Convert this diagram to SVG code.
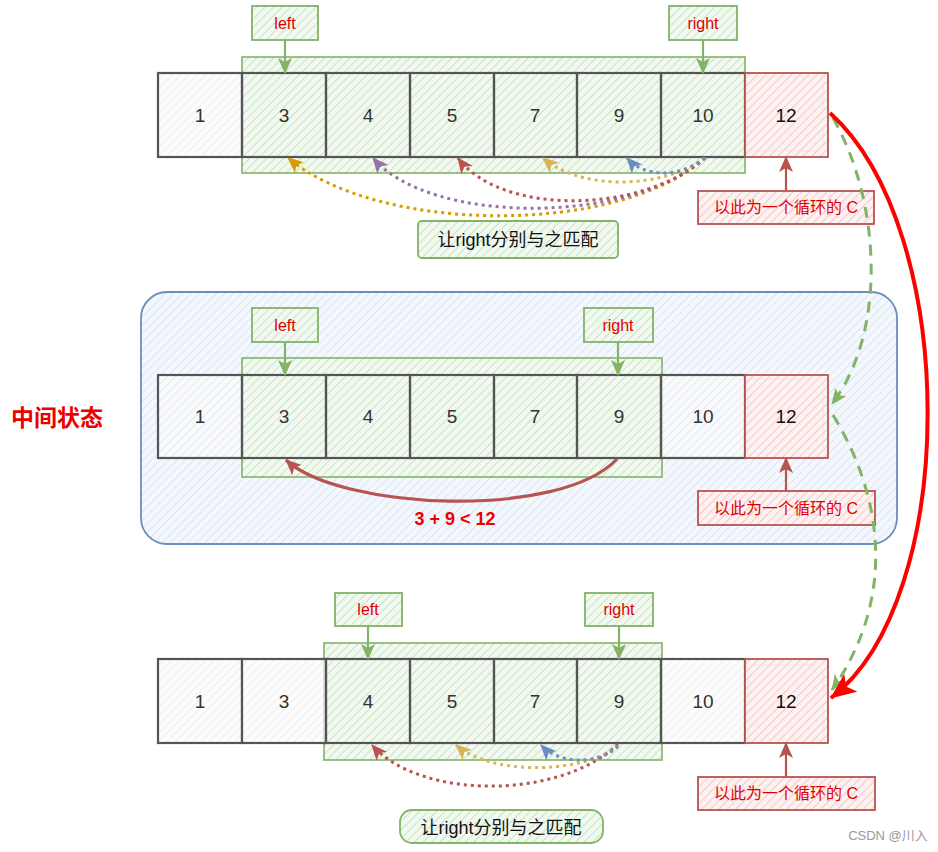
<svg xmlns="http://www.w3.org/2000/svg" width="938" height="852" viewBox="0 0 938 852">
<defs>
<pattern id="hG" width="6" height="6" patternUnits="userSpaceOnUse" patternTransform="rotate(45)"><rect width="6" height="6" fill="#f2f9f1"/><line x1="0" y1="0" x2="0" y2="6" stroke="#b3d7ac" stroke-width="1.3"/></pattern>
<pattern id="hGr" width="6" height="6" patternUnits="userSpaceOnUse" patternTransform="rotate(45)"><rect width="6" height="6" fill="#fbfbfb"/><line x1="0" y1="0" x2="0" y2="6" stroke="#dcdcdc" stroke-width="1.2"/></pattern>
<pattern id="hR" width="6" height="6" patternUnits="userSpaceOnUse" patternTransform="rotate(45)"><rect width="6" height="6" fill="#fdf2f1"/><line x1="0" y1="0" x2="0" y2="6" stroke="#f0b2ae" stroke-width="1.3"/></pattern>
<pattern id="hB" width="6" height="6" patternUnits="userSpaceOnUse" patternTransform="rotate(45)"><rect width="6" height="6" fill="#f4f8fd"/><line x1="0" y1="0" x2="0" y2="6" stroke="#c8dcf3" stroke-width="1.3"/></pattern>
<marker id="aG" viewBox="0 0 16 14" refX="15" refY="7" markerWidth="16" markerHeight="14" markerUnits="userSpaceOnUse" orient="auto"><path d="M0,0 L16,7 L0,14 L4,7 z" fill="#82b366"/></marker>
<marker id="aR" viewBox="0 0 16 14" refX="15" refY="7" markerWidth="16" markerHeight="14" markerUnits="userSpaceOnUse" orient="auto"><path d="M0,0 L16,7 L0,14 L4,7 z" fill="#b85450"/></marker>
<marker id="aBig" viewBox="0 0 26 22" refX="25" refY="11" markerWidth="26" markerHeight="22" markerUnits="userSpaceOnUse" orient="auto"><path d="M0,0 L26,11 L0,22 L6,11 z" fill="#ff0000"/></marker>
<marker id="dGold" viewBox="0 0 16 14" refX="15" refY="7" markerWidth="16" markerHeight="14" markerUnits="userSpaceOnUse" orient="auto"><path d="M0,0 L16,7 L0,14 L4,7 z" fill="#d79b00"/></marker>
<marker id="dPur" viewBox="0 0 16 14" refX="15" refY="7" markerWidth="16" markerHeight="14" markerUnits="userSpaceOnUse" orient="auto"><path d="M0,0 L16,7 L0,14 L4,7 z" fill="#9673a6"/></marker>
<marker id="dRed" viewBox="0 0 16 14" refX="15" refY="7" markerWidth="16" markerHeight="14" markerUnits="userSpaceOnUse" orient="auto"><path d="M0,0 L16,7 L0,14 L4,7 z" fill="#b85450"/></marker>
<marker id="dYel" viewBox="0 0 16 14" refX="15" refY="7" markerWidth="16" markerHeight="14" markerUnits="userSpaceOnUse" orient="auto"><path d="M0,0 L16,7 L0,14 L4,7 z" fill="#d6b656"/></marker>
<marker id="dBlu" viewBox="0 0 16 14" refX="15" refY="7" markerWidth="16" markerHeight="14" markerUnits="userSpaceOnUse" orient="auto"><path d="M0,0 L16,7 L0,14 L4,7 z" fill="#6c8ebf"/></marker>
</defs>
<style>
text{font-family:"Liberation Sans","Noto Sans CJK SC",sans-serif;text-anchor:middle}
.cell{fill:url(#hGr);fill-opacity:0.7;stroke:#555;stroke-width:2.2}
.cellg{fill:none;stroke:#555;stroke-width:2.2}
.num{font-size:19px;fill:#333}
.rng{fill:url(#hG);stroke:#82b366;stroke-width:1.6}
.lbl{fill:url(#hG);stroke:#82b366;stroke-width:1.8}
.lt{font-size:16px;fill:#e00000}
.red{fill:url(#hR);stroke:#b85450;stroke-width:1.8}
.ct{font-size:16px;fill:#e00000}
.pt{fill:none;stroke-width:2.2;marker-end:url(#aG);stroke:#82b366}
.pr{fill:none;stroke-width:2.2;marker-end:url(#aR);stroke:#b85450}
.dot{fill:none;stroke-width:3;stroke-dasharray:3 4}
.big{font-size:18px;fill:#111}
</style>

<g id="mid-container">
<rect x="141" y="292" width="756" height="252" rx="26" fill="url(#hB)" stroke="#6c8ebf" stroke-width="1.8"/>
</g>
<g id="mid-title"><text x="57" y="426" style="font-size:23px;font-weight:bold;fill:#ee0000">中间状态</text></g>

<g id="top-range"><rect class="rng" x="242" y="57" width="503" height="116"/></g>
<g id="top-c1"><rect class="cell" x="158" y="73" width="84" height="84"/><text class="num" x="200" y="122">1</text></g>
<g id="top-c3"><rect class="cellg" x="242" y="73" width="84" height="84"/><text class="num" x="284" y="122">3</text></g>
<g id="top-c4"><rect class="cellg" x="326" y="73" width="84" height="84"/><text class="num" x="368" y="122">4</text></g>
<g id="top-c5"><rect class="cellg" x="410" y="73" width="84" height="84"/><text class="num" x="452" y="122">5</text></g>
<g id="top-c7"><rect class="cellg" x="494" y="73" width="83" height="84"/><text class="num" x="535" y="122">7</text></g>
<g id="top-c9"><rect class="cellg" x="577" y="73" width="84" height="84"/><text class="num" x="619" y="122">9</text></g>
<g id="top-c10"><rect class="cellg" x="661" y="73" width="84" height="84"/><text class="num" x="703" y="122">10</text></g>
<g id="top-c12"><rect class="red" x="745" y="73" width="83" height="84"/><text class="num" x="786" y="122" style="fill:#111">12</text></g>
<g id="top-left"><rect class="lbl" x="252" y="6" width="66" height="34"/><text class="lt" x="285" y="29">left</text></g>
<g id="top-right"><rect class="lbl" x="669" y="6" width="68" height="34"/><text class="lt" x="703" y="29">right</text></g>
<g id="top-c"><rect class="red" x="698" y="191" width="176" height="33"/><text class="ct" x="786" y="213">以此为一个循环的 C</text></g>
<g id="top-note"><rect class="lbl" x="418" y="221" width="200" height="37" rx="4"/><text class="big" x="518" y="246">让right分别与之匹配</text></g>

<g id="mid-range"><rect class="rng" x="242" y="358" width="420" height="119"/></g>
<g id="mid-c1"><rect class="cell" x="158" y="375" width="84" height="83"/><text class="num" x="200" y="423">1</text></g>
<g id="mid-c3"><rect class="cellg" x="242" y="375" width="84" height="83"/><text class="num" x="284" y="423">3</text></g>
<g id="mid-c4"><rect class="cellg" x="326" y="375" width="84" height="83"/><text class="num" x="368" y="423">4</text></g>
<g id="mid-c5"><rect class="cellg" x="410" y="375" width="84" height="83"/><text class="num" x="452" y="423">5</text></g>
<g id="mid-c7"><rect class="cellg" x="494" y="375" width="83" height="83"/><text class="num" x="535" y="423">7</text></g>
<g id="mid-c9"><rect class="cellg" x="577" y="375" width="84" height="83"/><text class="num" x="619" y="423">9</text></g>
<g id="mid-c10"><rect class="cell" x="661" y="375" width="84" height="83"/><text class="num" x="703" y="423">10</text></g>
<g id="mid-c12"><rect class="red" x="745" y="375" width="83" height="83"/><text class="num" x="786" y="423" style="fill:#111">12</text></g>
<g id="mid-left"><rect class="lbl" x="252" y="308" width="66" height="34"/><text class="lt" x="285" y="331">left</text></g>
<g id="mid-right"><rect class="lbl" x="584" y="308" width="69" height="34"/><text class="lt" x="618" y="331">right</text></g>
<g id="mid-c"><rect class="red" x="698" y="491" width="177" height="34"/><text class="ct" x="786" y="514">以此为一个循环的 C</text></g>
<g id="mid-cond"><text x="455" y="525" style="font-size:18px;font-weight:bold;fill:#ee0000">3 + 9 &lt; 12</text></g>

<g id="bot-range"><rect class="rng" x="324" y="643" width="338" height="117"/></g>
<g id="bot-c1"><rect class="cell" x="158" y="659" width="84" height="84"/><text class="num" x="200" y="708">1</text></g>
<g id="bot-c3"><rect class="cell" x="242" y="659" width="84" height="84"/><text class="num" x="284" y="708">3</text></g>
<g id="bot-c4"><rect class="cellg" x="326" y="659" width="84" height="84"/><text class="num" x="368" y="708">4</text></g>
<g id="bot-c5"><rect class="cellg" x="410" y="659" width="84" height="84"/><text class="num" x="452" y="708">5</text></g>
<g id="bot-c7"><rect class="cellg" x="494" y="659" width="83" height="84"/><text class="num" x="535" y="708">7</text></g>
<g id="bot-c9"><rect class="cellg" x="577" y="659" width="84" height="84"/><text class="num" x="619" y="708">9</text></g>
<g id="bot-c10"><rect class="cell" x="661" y="659" width="84" height="84"/><text class="num" x="703" y="708">10</text></g>
<g id="bot-c12"><rect class="red" x="745" y="659" width="83" height="84"/><text class="num" x="786" y="708" style="fill:#111">12</text></g>
<g id="bot-left"><rect class="lbl" x="335" y="593" width="67" height="33"/><text class="lt" x="368" y="615">left</text></g>
<g id="bot-right"><rect class="lbl" x="585" y="593" width="68" height="33"/><text class="lt" x="619" y="615">right</text></g>
<g id="bot-c"><rect class="red" x="698" y="777" width="177" height="33"/><text class="ct" x="786" y="799">以此为一个循环的 C</text></g>
<g id="bot-note"><rect class="lbl" x="400" y="810" width="203" height="33" rx="12"/><text class="big" x="501" y="834">让right分别与之匹配</text></g>

<g id="watermark"><text x="888" y="840" style="font-size:13px;fill:#999">CSDN @川入</text></g>

<g id="connectors">
<path class="pt" d="M285 40 V73"/>
<path class="pt" d="M703 40 V73"/>
<path class="pr" d="M786 191 V157"/>
<path class="pt" d="M285 342 V375"/>
<path class="pt" d="M618 342 V375"/>
<path class="pr" d="M786 491 V458"/>
<path class="pt" d="M368 626 V659"/>
<path class="pt" d="M619 626 V659"/>
<path class="pr" d="M786 777 V743"/>

<path class="dot" stroke="#d79b00" marker-end="url(#dGold)" d="M705 158 C620 235 380 235 288 158"/>
<path class="dot" stroke="#9673a6" marker-end="url(#dPur)" d="M705 158 C630 225 430 225 373 158"/>
<path class="dot" stroke="#b85450" marker-end="url(#dRed)" d="M705 158 C640 215 500 215 458 158"/>
<path class="dot" stroke="#d6b656" marker-end="url(#dYel)" d="M705 158 C660 190 580 190 543 158"/>
<path class="dot" stroke="#6c8ebf" marker-end="url(#dBlu)" d="M705 158 C680 178 645 178 627 158"/>

<path class="dot" stroke="#b85450" marker-end="url(#dRed)" d="M618 744 C560 800 420 800 372 745"/>
<path class="dot" stroke="#d6b656" marker-end="url(#dYel)" d="M618 746 C580 775 490 775 456 745"/>
<path class="dot" stroke="#6c8ebf" marker-end="url(#dBlu)" d="M618 746 C600 765 560 765 541 745"/>

<path d="M617 459 C560 520 340 510 286 460" fill="none" stroke="#b85450" stroke-width="3.2" marker-end="url(#aR)"/>

<path d="M833 118 C880 200 888 330 832 404" fill="none" stroke="#82b366" stroke-width="3" stroke-dasharray="11 8" marker-end="url(#aG)"/>
<path d="M833 415 C885 500 895 600 832 690" fill="none" stroke="#82b366" stroke-width="3" stroke-dasharray="11 8" marker-end="url(#aG)"/>
<path d="M830 113 C960 230 960 600 831 698" fill="none" stroke="#ff0000" stroke-width="4" marker-end="url(#aBig)"/>
</g>
</svg>
